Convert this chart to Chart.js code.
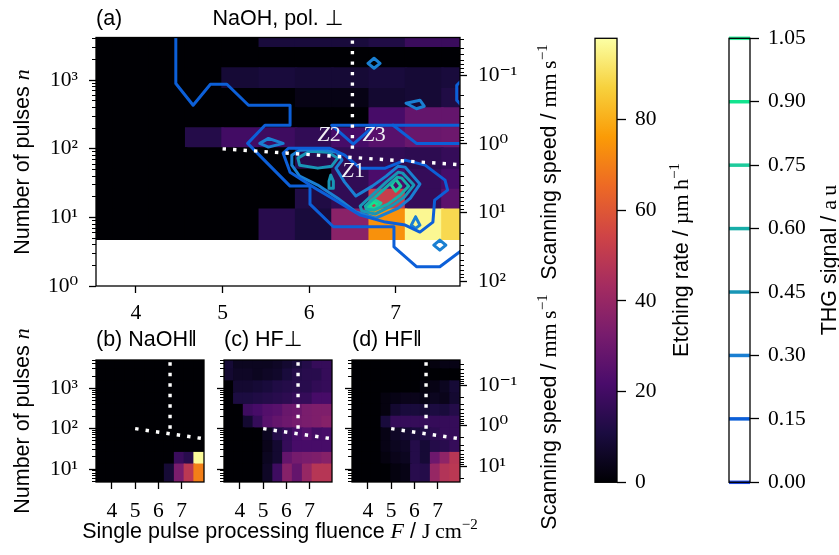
<!DOCTYPE html>
<html>
<head>
<meta charset="utf-8">
<title>Etching rate and THG signal</title>
<script src="https://cdn.jsdelivr.net/npm/chart.js@4.4.1/dist/chart.umd.min.js"></script>
<style>
  html, body { margin: 0; padding: 0; background: #fff; }
  #fig { position: relative; width: 839px; height: 555px; }
  #fig canvas { position: absolute; left: 0; top: 0; }
</style>
</head>
<body>
<div id="fig">
  <canvas id="panelA" width="839" height="555"></canvas>
  <canvas id="panelB" width="839" height="555"></canvas>
  <canvas id="panelC" width="839" height="555"></canvas>
  <canvas id="panelD" width="839" height="555"></canvas>
  <canvas id="barEtch" width="839" height="555"></canvas>
  <canvas id="barThg" width="839" height="555"></canvas>
</div>
<script>
// ---- data -------------------------------------------------------------
const fluenceCenters = [3.53, 3.95, 4.37, 4.79, 5.21, 5.64, 6.06, 6.48, 6.91, 7.33, 7.75];
const fluenceRange = [3.315, 7.96];
const pulseEdges = [4.8, 13.2, 25.6, 50, 103, 201, 394, 755, 1506, 2980, 5000];

// etching rate (um/h), one row per pulse band, fewest pulses first
const rateNaOHperp = [
  [0, 0, 0, 0, 0, 14, 10, 37, 74, 96, 89],
  [0, 0, 0, 0, 0, 0, 12, 16, 52, 17, 26],
  [0, 0, 0, 0, 0, 0, 0, 16, 22, 17, 21],
  [0, 0, 0, 0, 0, 0, 14, 16, 16, 15, 17],
  [0, 0, 0, 13, 20, 19, 16, 21, 25, 29, 30],
  [0, 0, 0, 0, 0, 0, 0, 0, 21, 28, 28],
  [0, 0, 0, 0, 0, 0, 3, 3, 8, 9, 12],
  [0, 0, 0, 0, 9, 10, 9, 9, 10, 9, 10],
  [0, 0, 0, 0, 0, 0, 0, 0, 0, 0, 0],
  [0, 0, 0, 0, 0, 10, 10, 10, 12, 18, 18]
];
const rateNaOHpar = [
  [0, 0, 0, 0, 0, 0, 0, 9, 33, 49, 70],
  [0, 0, 0, 0, 0, 0, 0, 0, 18, 14, 97],
  [0, 0, 0, 0, 0, 0, 0, 0, 0, 0, 0],
  [0, 0, 0, 0, 0, 0, 0, 0, 0, 0, 0],
  [0, 0, 0, 0, 0, 0, 0, 0, 0, 0, 0],
  [0, 0, 0, 0, 0, 0, 0, 0, 0, 0, 0],
  [0, 0, 0, 0, 0, 0, 0, 0, 0, 0, 0],
  [0, 0, 0, 0, 0, 0, 0, 0, 0, 0, 0],
  [0, 0, 0, 0, 0, 0, 0, 0, 0, 0, 0],
  [0, 0, 0, 0, 0, 0, 0, 0, 0, 0, 0]
];
const rateHFperp = [
  [0, 0, 0, 0, 6, 19, 36, 28, 40, 48, 48],
  [0, 0, 0, 0, 5, 8, 28, 32, 33, 34, 36],
  [0, 0, 0, 0, 4, 8, 17, 21, 21, 21, 21],
  [0, 0, 0, 0, 5, 13, 17, 21, 24, 20, 21],
  [0, 0, 8, 17, 25, 28, 30, 32, 33, 34, 36],
  [0, 0, 19, 21, 24, 25, 29, 30, 33, 34, 34],
  [0, 11, 11, 12, 13, 14, 15, 17, 17, 21, 21],
  [0, 8, 8, 9, 10, 12, 13, 14, 14, 16, 17],
  [8, 6, 6, 5, 6, 7, 10, 13, 14, 14, 17],
  [9, 5, 5, 5, 5, 6, 8, 10, 13, 17, 17]
];
const rateHFpar = [
  [0, 0, 0, 0, 2, 3, 14, 13, 40, 47, 49],
  [0, 0, 0, 2, 4, 5, 13, 9, 30, 38, 48],
  [0, 0, 0, 3, 5, 6, 13, 9, 13, 14, 17],
  [0, 0, 0, 3, 6, 8, 10, 12, 15, 17, 17],
  [0, 0, 0, 10, 17, 17, 17, 17, 17, 17, 17],
  [0, 0, 0, 2, 8, 10, 10, 9, 11, 10, 13],
  [0, 0, 0, 2, 3, 4, 4, 3, 5, 4, 8],
  [0, 0, 0, 0, 0, 0, 0, 2, 3, 5, 9],
  [0, 0, 0, 0, 0, 0, 0, 0, 0, 0, 0],
  [0, 0, 0, 0, 0, 0, 0, 0, 2, 3, 3]
];

const etchMax = 97.9;
const etchTicks = [0, 20, 40, 60, 80];
const infernoStops = ['#000004', '#1b0c41', '#4a0c6b', '#781c6d', '#a52c60',
                      '#cf4446', '#ed6925', '#fb9b06', '#f7d13d', '#fcffa4'];

const thgLevels = [0, 0.15, 0.30, 0.45, 0.60, 0.75, 0.90, 1.05];
const thgColors = ['#2148dc', '#0c5fd8', '#1a7fd2', '#1896b6', '#17ada8', '#1ecb9c', '#12e48f', '#2cf09c'];

// THG contours of panel (a): [level index, [[F, n], ...]]
const thgContours = [
  [1, [[4.46, 6000], [4.46, 895], [4.66, 432], [4.86, 875], [5.05, 875], [5.30, 432], [5.78, 432],
       [5.78, 221], [5.49, 221], [5.29, 120], [5.78, 28.6], [6.01, 28.6], [6.01, 15.6], [6.28, 7.3],
       [6.98, 7.3], [6.98, 3.73], [7.24, 1.91], [7.51, 1.91], [7.80, 3.6]]],
  [1, [[7.80, 1100], [7.705, 845], [7.705, 511], [7.80, 380]]],
  [1, [[7.80, 221], [6.26, 221], [6.51, 117], [6.76, 221]]],
  [1, [[6.97, 221], [7.24, 120], [7.80, 120]]],
  [1, [[5.70, 86.4], [5.76, 102], [6.24, 102], [6.41, 80.9], [6.59, 52.3], [6.88, 52.3], [7.11, 68.4],
       [7.34, 57.8], [7.57, 35.0], [7.60, 25.0], [7.45, 17.9], [7.43, 8.55], [7.28, 6.11], [7.11, 7.73],
       [6.88, 8.55], [6.59, 10.8], [6.30, 17.9], [6.01, 29.6], [5.78, 45.7], [5.70, 86.4]]],
  [2, [[5.80, 80.9], [5.89, 95.6], [6.13, 98.9], [6.32, 89.4], [6.38, 68.4], [6.31, 52.3], [6.41, 32.7],
       [6.54, 20.5], [6.73, 28.6], [6.89, 40.0], [7.03, 55.9], [7.11, 54.1], [7.28, 30.6], [7.17, 19.1],
       [7.03, 13.7], [6.77, 9.78], [6.54, 12.0], [6.33, 19.1], [6.10, 29.6], [5.89, 40.0], [5.80, 57.8],
       [5.80, 80.9]]],
  [2, [[5.43, 120], [5.53, 142], [5.70, 120], [5.53, 106], [5.43, 120]]],
  [2, [[6.68, 1767], [6.75, 2091], [6.82, 1767], [6.75, 1496], [6.68, 1767]]],
  [2, [[7.12, 462], [7.28, 511], [7.33, 418], [7.24, 384], [7.12, 462]]],
  [2, [[7.44, 3.95], [7.51, 4.68], [7.58, 3.95], [7.51, 3.34], [7.44, 3.95]]],
  [2, [[7.23, 10.2], [7.18, 7.73], [7.23, 6.92], [7.28, 7.73], [7.23, 10.2]]],
  [3, [[5.87, 73.1], [6.01, 92.5], [6.22, 89.4], [6.33, 73.1], [6.26, 55.9], [6.10, 52.3], [5.89, 57.8], [5.87, 73.1]]],
  [3, [[6.59, 14.6], [6.89, 32.7], [7.03, 45.7], [7.08, 44.2], [7.21, 29.6], [7.10, 19.8], [6.97, 15.1],
       [6.76, 11.2], [6.61, 12.4], [6.59, 14.6]]],
  [3, [[6.25, 41.3], [6.28, 33.8], [6.28, 26.7], [6.24, 26.7], [6.23, 33.8], [6.25, 41.3]]],
  [4, [[6.65, 14.6], [6.93, 30.6], [7.02, 38.7], [7.07, 37.4], [7.15, 28.6], [7.05, 21.1], [6.91, 15.6],
       [6.75, 12.8], [6.66, 13.2], [6.65, 14.6]]],
  [5, [[6.66, 14.6], [6.74, 18.5], [6.83, 16.2], [6.75, 12.8], [6.66, 14.6]]],
  [5, [[6.95, 29.6], [7.00, 36.2], [7.06, 28.6], [7.00, 24.2], [6.95, 29.6]]],
  [6, [[6.69, 14.6], [6.75, 16.7], [6.80, 15.1], [6.75, 13.2], [6.69, 14.6]]]
];

// dotted zone borders and zone names
const zoneLines = [[[6.5, 100], [6.5, 5000]], [[5.0, 100], [7.9, 57]]];
const zoneLabels = [['Z', '1', 6.51, 47], ['Z', '2', 6.23, 158], ['Z', '3', 6.75, 158]];

const fluenceTicks = [4, 5, 6, 7];
const fluenceTickLabels = ['4', '5', '6', '7'];
const pulseTicks = [1, 10, 100, 1000];
const pulseTickLabels = ['10⁰', '10¹', '10²', '10³'];
const speedTicks = [0.1, 1, 10, 100];
const speedTickLabels = ['10⁻¹', '10⁰', '10¹', '10²'];
const speedFactor = 118; // scanning speed = speedFactor / n

// ---- helpers ----------------------------------------------------------
const SANS = '"Liberation Sans", "DejaVu Sans", sans-serif';
const SERIF = '"Liberation Serif", "DejaVu Serif", serif';
const W = 839, H = 555, AXIS_W = 60, AXIS_H = 45;
const tickFont = { family: SERIF, size: 21.5 };

function hexRgb(h) {
  return [1, 3, 5].map(i => parseInt(h.substr(i, 2), 16));
}
function inferno(v) {
  const n = infernoStops.length - 1;
  const t = Math.max(0, Math.min(1, v / etchMax)) * n;
  const i = Math.min(Math.floor(t), n - 1);
  const a = hexRgb(infernoStops[i]), b = hexRgb(infernoStops[i + 1]);
  return 'rgb(' + a.map((c, k) => Math.round(c + (b[k] - c) * (t - i))).join(',') + ')';
}
function logTickList(min, max) {
  const out = [];
  for (let e = Math.floor(Math.log10(min)); e <= Math.ceil(Math.log10(max)); e++) {
    for (let m = 1; m < 10; m++) {
      const v = m * Math.pow(10, e);
      if (v >= min * 0.9999 && v <= max * 1.0001) out.push({ value: v, major: m === 1 });
    }
  }
  return out;
}
function tickLabel(values, labels, v) {
  const i = values.findIndex(t => Math.abs(t - v) / t < 1e-6);
  return i < 0 ? '' : labels[i];
}
function isMinor(c) { return c.tick && c.tick.major === false; }
function tickGrid(side, len) {
  return {
    drawOnChartArea: false, drawTicks: true, tickLength: len, tickColor: '#000', offset: false,
    tickWidth: c => isMinor(c) ? 1 : 1.3,
    tickBorderDash: c => isMinor(c) ? (side === 'left' ? [0, len - 4, 4, 50] : [4, 50]) : []
  };
}
function pad(area, left, right, bottom) {
  return { left: area.l - left, right: W - area.r - right, top: area.t, bottom: H - area.b - bottom };
}

function fluenceAxis(min, max, labelPad) {
  return {
    type: 'linear', position: 'bottom', min, max, bounds: 'data', offset: false,
    afterBuildTicks: s => { s.ticks = fluenceTicks.map(v => ({ value: v })); },
    afterFit: s => { s.height = AXIS_H; },
    border: { display: false },
    grid: tickGrid('bottom', 7),
    ticks: { color: '#000', font: tickFont, padding: labelPad, autoSkip: false, maxRotation: 0,
             callback: v => tickLabel(fluenceTicks, fluenceTickLabels, v) }
  };
}
function pulseAxis(min, max, show) {
  return {
    type: 'logarithmic', position: 'left', display: show, min, max, bounds: 'data',
    afterBuildTicks: s => { s.ticks = logTickList(min, max); },
    afterFit: s => { s.width = show ? AXIS_W : 0; },
    border: { display: false },
    grid: tickGrid('left', 7),
    ticks: { color: '#000', font: tickFont, padding: 11, autoSkip: false,
             callback: v => tickLabel(pulseTicks, pulseTickLabels, v) }
  };
}
function speedAxis(nMin, nMax) {
  const min = speedFactor / nMax, max = speedFactor / nMin;
  return {
    type: 'logarithmic', position: 'right', reverse: true, min, max, bounds: 'data',
    afterBuildTicks: s => { s.ticks = logTickList(min, max); },
    afterFit: s => { s.width = AXIS_W; },
    border: { display: false },
    grid: tickGrid('right', 7),
    ticks: { color: '#000', font: tickFont, padding: 11, autoSkip: false,
             callback: v => tickLabel(speedTicks, speedTickLabels, v) }
  };
}

function cellDatasets(rates) {
  return rates.map((row, r) => ({
    type: 'bar',
    data: fluenceCenters.map(f => ({ x: f, y: [pulseEdges[r], pulseEdges[r + 1]] })),
    backgroundColor: row.map(inferno),
    borderWidth: 0, inflateAmount: 0.7, grouped: false, barPercentage: 1.03, categoryPercentage: 1,
    clip: 0, order: 3
  }));
}
function contourDatasets() {
  return thgContours.map(([lvl, pts]) => ({
    type: 'line',
    data: pts.map(p => ({ x: p[0], y: p[1] })),
    borderColor: thgColors[lvl], borderWidth: 3, pointRadius: 0, fill: false, tension: 0,
    borderJoinStyle: 'round', borderCapStyle: 'round', clip: 0, order: 2
  }));
}
function zoneDatasets() {
  return zoneLines.map(pts => ({
    type: 'line',
    data: pts.map(p => ({ x: p[0], y: p[1] })),
    borderColor: '#ffffff', borderWidth: 3.4, borderDash: [3.4, 7.1], borderCapStyle: 'butt',
    pointRadius: 0, fill: false, clip: 0, order: 1
  }));
}

const framePlugin = {
  id: 'frame',
  afterDraw(chart) {
    const { ctx, chartArea: a } = chart;
    ctx.save();
    ctx.strokeStyle = '#000';
    ctx.lineWidth = 1.3;
    ctx.strokeRect(a.left, a.top, a.right - a.left, a.bottom - a.top);
    ctx.restore();
  }
};

// mixed-font text, parts = [[text, font, dy], ...]
function richText(ctx, parts, x, y, rot, align) {
  ctx.save();
  ctx.translate(x, y);
  if (rot) ctx.rotate(rot * Math.PI / 180);
  let w = 0;
  parts.forEach(p => { ctx.font = p[1]; w += ctx.measureText(p[0]).width; });
  let cx = align === 'left' ? 0 : -w / 2;
  ctx.fillStyle = '#000';
  ctx.textBaseline = 'alphabetic';
  ctx.textAlign = 'left';
  parts.forEach(p => {
    ctx.font = p[1];
    ctx.fillText(p[0], cx, p[2] || 0);
    cx += ctx.measureText(p[0]).width;
  });
  ctx.restore();
}

const fSans = '21.5px ' + SANS;
const fSerif = '22px ' + SERIF;
const fItal = 'italic 22px ' + SERIF;
const fSup = '15px ' + SERIF;
const nLabel = [['Number of pulses ', fSans], ['n', fItal]];
const speedLabel = [['Scanning speed / ', fSans], ['mm\u2009s', fSerif], ['\u22121', fSup, -9]];
const pageTexts = [
  { parts: [['(a)', fSans]], x: 96, y: 24.5, align: 'left' },
  { parts: [['NaOH, pol. \u22a5', fSans]], x: 278, y: 24.5 },
  { parts: [['(b) NaOH\u2016', fSans]], x: 96, y: 345.5, align: 'left' },
  { parts: [['(c) HF\u22a5', fSans]], x: 224, y: 345.5, align: 'left' },
  { parts: [['(d) HF\u2016', fSans]], x: 352, y: 345.5, align: 'left' },
  { parts: nLabel, x: 29, y: 162, rot: -90 },
  { parts: nLabel, x: 29, y: 421, rot: -90 },
  { parts: speedLabel, x: 556, y: 162, rot: -90 },
  { parts: speedLabel, x: 556, y: 412, rot: -90 },
  { parts: [['Etching rate / ', fSans], ['\u00b5m\u2009h', fSerif], ['\u22121', fSup, -9]], x: 688, y: 260, rot: -90 },
  { parts: [['THG signal / ', fSans], ['a\u2009u', fSerif]], x: 836, y: 260, rot: -90 },
  { parts: [['Single pulse processing fluence ', fSans], ['F', fItal], [' / ', fSans], ['J\u2009cm', fSerif], ['\u22122', fSup, -9]], x: 280, y: 538 }
];
const textPlugin = {
  id: 'pageText',
  afterDraw(chart) {
    pageTexts.forEach(t => richText(chart.ctx, t.parts, t.x, t.y, t.rot, t.align));
  }
};
const zonePlugin = {
  id: 'zoneNames',
  afterDatasetsDraw(chart) {
    const { ctx, scales } = chart;
    ctx.save();
    ctx.fillStyle = '#f0f0f4';
    ctx.textBaseline = 'middle';
    ctx.textAlign = 'left';
    zoneLabels.forEach(([z, d, f, n]) => {
      const x = scales.x.getPixelForValue(f), y = scales.y.getPixelForValue(n);
      ctx.font = fItal; const wz = ctx.measureText(z).width;
      ctx.font = fSerif; const wd = ctx.measureText(d).width;
      const x0 = x - (wz + wd) / 2;
      ctx.font = fItal; ctx.fillText(z, x0, y);
      ctx.font = fSerif; ctx.fillText(d, x0 + wz, y);
    });
    ctx.restore();
  }
};

const baseOptions = {
  responsive: false, animation: false, devicePixelRatio: 1, events: [],
  plugins: { legend: { display: false }, tooltip: { enabled: false } }
};

function panelChart(id, rates, area, opt) {
  const datasets = cellDatasets(rates);
  if (opt.contours) datasets.push(...contourDatasets());
  datasets.push(...zoneDatasets());
  const scales = { x: fluenceAxis(opt.xMin, opt.xMax, opt.labelPad), y: pulseAxis(opt.yMin, opt.yMax, opt.left) };
  if (opt.right) scales.y2 = speedAxis(opt.yMin, opt.yMax);
  return new Chart(document.getElementById(id), {
    type: 'bar',
    data: { datasets },
    options: Object.assign({}, baseOptions, {
      layout: { padding: pad(area, opt.left ? AXIS_W : 0, opt.right ? AXIS_W : 0, AXIS_H) },
      scales
    }),
    plugins: [framePlugin].concat(opt.plugins || [])
  });
}

// ---- panels -----------------------------------------------------------
const small = { xMin: fluenceRange[0], xMax: fluenceRange[1], yMin: pulseEdges[0],
                yMax: pulseEdges[pulseEdges.length - 1], labelPad: 9 };

panelChart('panelA', rateNaOHperp, { l: 96, t: 37.5, r: 460, b: 286 },
  { xMin: 3.538, xMax: 7.743, yMin: 1, yMax: 4200, left: true, right: true, contours: true,
    labelPad: 7, plugins: [zonePlugin, textPlugin] });
panelChart('panelB', rateNaOHpar, { l: 96, t: 360, r: 204, b: 482 }, Object.assign({ left: true }, small));
panelChart('panelC', rateHFperp, { l: 224, t: 360, r: 332, b: 482 }, Object.assign({}, small));
panelChart('panelD', rateHFpar, { l: 352, t: 360, r: 460, b: 482 }, Object.assign({ right: true }, small));

// ---- colour bars ------------------------------------------------------
new Chart(document.getElementById('barEtch'), {
  type: 'bar',
  data: {
    labels: ['rate'],
    datasets: [{
      data: [[0, etchMax]],
      backgroundColor: c => {
        const chart = c.chart, ys = chart.scales.y;
        if (!chart.chartArea || !ys) return 'transparent';
        const g = chart.ctx.createLinearGradient(0, ys.getPixelForValue(0), 0, ys.getPixelForValue(etchMax));
        infernoStops.forEach((col, i) => g.addColorStop(i / (infernoStops.length - 1), col));
        return g;
      },
      borderWidth: 0, barPercentage: 1, categoryPercentage: 1, clip: 0
    }]
  },
  options: Object.assign({}, baseOptions, {
    layout: { padding: pad({ l: 595, t: 38.3, r: 617, b: 482.3 }, 0, AXIS_W, 0) },
    scales: {
      x: { display: false },
      y: {
        position: 'right', min: 0, max: etchMax, bounds: 'data',
        afterBuildTicks: s => { s.ticks = etchTicks.map(v => ({ value: v })); },
        afterFit: s => { s.width = AXIS_W; },
        border: { display: false },
        grid: tickGrid('right', 9),
        ticks: { color: '#000', font: tickFont, padding: 9, callback: v => String(v) }
      }
    }
  }),
  plugins: [framePlugin]
});

new Chart(document.getElementById('barThg'), {
  type: 'line',
  data: {
    datasets: thgLevels.map((l, i) => ({
      data: [{ x: 0, y: l }, { x: 1, y: l }],
      borderColor: thgColors[i], borderWidth: 3.5, pointRadius: 0, fill: false, clip: false
    }))
  },
  options: Object.assign({}, baseOptions, {
    layout: { padding: pad({ l: 729, t: 38.3, r: 750, b: 482.3 }, 0, AXIS_W, 0) },
    scales: {
      x: { type: 'linear', display: false, min: 0, max: 1 },
      y: {
        type: 'linear', position: 'right', min: 0, max: 1.05, bounds: 'data',
        afterBuildTicks: s => { s.ticks = thgLevels.map(v => ({ value: v })); },
        afterFit: s => { s.width = AXIS_W; },
        border: { display: false },
        grid: tickGrid('right', 9),
        ticks: { color: '#000', font: tickFont, padding: 9, callback: v => v.toFixed(2) }
      }
    }
  }),
  plugins: [framePlugin]
});
</script>
</body>
</html>
